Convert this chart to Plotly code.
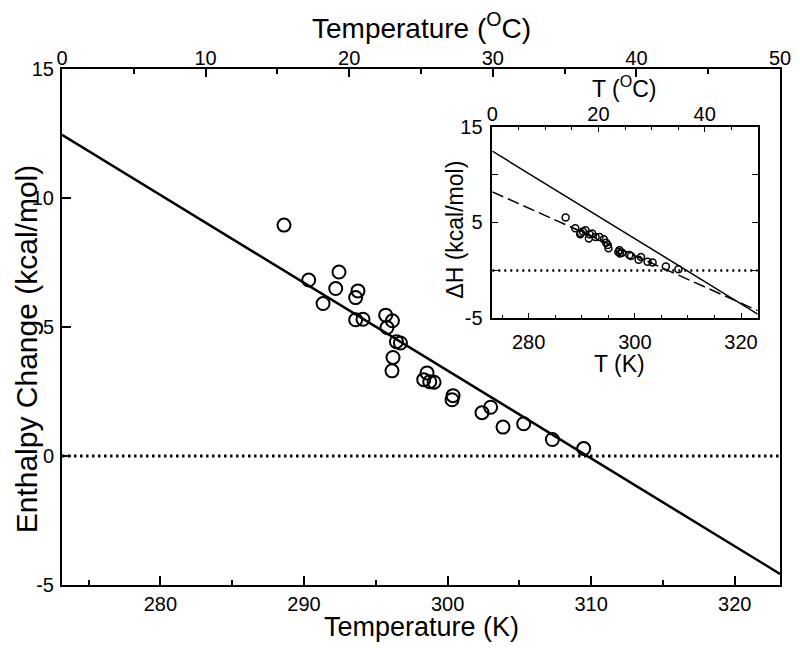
import plotly.graph_objects as go

# ---------------- data ----------------
# Main panel: measured enthalpy change vs temperature (K)
main_T = [288.61, 290.33, 292.44, 292.21, 291.33, 293.76, 293.60, 293.60, 294.11,
          295.69, 296.16, 295.78, 296.44, 296.72, 296.20, 296.13, 298.57, 298.34,
          298.76, 299.06, 300.38, 300.31, 302.40, 303.00, 303.86, 305.30, 307.30, 309.48]
main_dH = [8.95, 6.82, 7.13, 6.49, 5.91, 6.40, 6.14, 5.28, 5.30,
           5.46, 5.24, 4.98, 4.43, 4.38, 3.82, 3.30, 3.22, 2.96,
           2.88, 2.86, 2.34, 2.18, 1.68, 1.89, 1.12, 1.25, 0.64, 0.29]

# linear fit (solid) shown in both panels
fit_T = [273.15, 323.15]
fit_dH = [12.45, -4.57]

# zero reference line
zero_T = [273.15, 323.15]
zero_dH = [0, 0]

# Inset: second data set and its fit (dashed)
inset_T = [286.96, 288.78, 289.71, 290.21, 290.71, 289.84, 291.46, 291.96, 291.34,
           292.59, 293.34, 294.15, 294.59, 294.90, 295.03, 296.90, 297.20, 297.10,
           297.60, 298.96, 299.28, 301.15, 300.71, 302.40, 303.34, 305.84, 308.21]
inset_dH = [5.53, 4.40, 3.77, 4.05, 4.19, 3.91, 3.77, 3.84, 3.32,
            3.49, 3.49, 3.25, 2.89, 2.65, 2.30, 1.91, 1.77, 2.09,
            1.84, 1.60, 1.49, 1.39, 1.11, 0.89, 0.82, 0.40, 0.12]
dash_T = [273.15, 323.15]
dash_dH = [8.2, -4.2]

# axis ticks
main_x_ticks = [280, 290, 300, 310, 320]
main_c_ticks = [0, 10, 20, 30, 40, 50]
main_y_ticks = [-5, 0, 5, 10, 15]
main_y_labels = ["-5", "0", "5", "10", "15"]
inset_x_ticks = [280, 300, 320]
inset_c_ticks = [0, 20, 40]
inset_y_ticks = [-5, 5, 15]
inset_y_labels = ["-5", "5", "15"]

FONT = "Liberation Sans, Arial, sans-serif"

fig = go.Figure()

# main panel
fig.add_trace(go.Scatter(x=zero_T, y=zero_dH, mode="lines",
                         line=dict(color="black", width=3, dash="2.5px,3.5px"),
                         xaxis="x", yaxis="y", showlegend=False, hoverinfo="skip"))
fig.add_trace(go.Scatter(x=fit_T, y=fit_dH, mode="lines",
                         line=dict(color="black", width=2.5),
                         xaxis="x", yaxis="y", showlegend=False))
fig.add_trace(go.Scatter(x=main_T, y=main_dH, mode="markers",
                         marker=dict(symbol="circle-open", size=13, color="black",
                                     line=dict(width=2, color="black")),
                         xaxis="x", yaxis="y", showlegend=False))
# top Celsius axis carrier
fig.add_trace(go.Scatter(x=[], y=[], xaxis="x2", yaxis="y", showlegend=False,
                         hoverinfo="skip"))

# inset
fig.add_trace(go.Scatter(x=zero_T, y=zero_dH, mode="lines",
                         line=dict(color="black", width=2.5, dash="2px,4px"),
                         xaxis="x3", yaxis="y3", showlegend=False, hoverinfo="skip"))
fig.add_trace(go.Scatter(x=fit_T, y=fit_dH, mode="lines",
                         line=dict(color="black", width=1.5),
                         xaxis="x3", yaxis="y3", showlegend=False))
fig.add_trace(go.Scatter(x=dash_T, y=dash_dH, mode="lines",
                         line=dict(color="black", width=1.5, dash="12px,5px"),
                         xaxis="x3", yaxis="y3", showlegend=False))
fig.add_trace(go.Scatter(x=inset_T, y=inset_dH, mode="markers",
                         marker=dict(symbol="circle-open", size=7, color="black",
                                     line=dict(width=1.5, color="black")),
                         xaxis="x3", yaxis="y3", showlegend=False))
fig.add_trace(go.Scatter(x=[], y=[], xaxis="x4", yaxis="y3", showlegend=False,
                         hoverinfo="skip"))

common = dict(showgrid=False, zeroline=False, showline=True, linecolor="black",
              automargin=False, ticks="inside", tickcolor="black",
              tickfont=dict(family=FONT, size=20, color="black"))

# page body has an 8px margin: size the figure so the plot lands where the reference has it
fig.update_layout(
    width=784, height=636,
    margin=dict(l=54, r=12, t=61, b=59, autoexpand=False),
    paper_bgcolor="white", plot_bgcolor="white",
    font=dict(family=FONT, color="black"),
    xaxis=dict(**common, domain=[0, 1], anchor="y", range=[273.15, 323.15],
               tickmode="array", tickvals=main_x_ticks, linewidth=2,
               ticklen=9, tickwidth=1.5,
               minor=dict(ticks="inside", ticklen=5, tickwidth=1.5, dtick=5, tick0=275,
                          tickcolor="black"),
               ticklabelstandoff=0),
    xaxis2=dict(**common, overlaying="x", side="top", anchor="y", range=[0, 50],
                tickmode="array", tickvals=main_c_ticks, linewidth=2,
                ticklen=8, tickwidth=1.5,
                minor=dict(ticks="inside", ticklen=5, tickwidth=1.5, dtick=5, tick0=0,
                           tickcolor="black"),
                ticklabelstandoff=-6),
    yaxis=dict(**common, domain=[0, 1], anchor="x", range=[-5, 15],
               tickmode="array", tickvals=main_y_ticks, ticktext=main_y_labels,
               linewidth=2, mirror=True,
               ticklen=9, tickwidth=1.5, ticklabelstandoff=2),
    xaxis3=dict(**common, domain=[0.5993, 0.969], anchor="y3", range=[273.15, 323.15],
                tickmode="array", tickvals=inset_x_ticks, linewidth=1.5,
                ticklen=6, tickwidth=1.2,
                minor=dict(ticks="inside", ticklen=4, tickwidth=1.2, dtick=5, tick0=275,
                           tickcolor="black"),
                ticklabelstandoff=5),
    xaxis4=dict(**common, overlaying="x3", side="top", anchor="y3", range=[0, 50],
                tickmode="array", tickvals=inset_c_ticks, linewidth=1.5,
                ticklen=6, tickwidth=1.2,
                minor=dict(ticks="inside", ticklen=4, tickwidth=1.2, dtick=5, tick0=0,
                           tickcolor="black"),
                ticklabelstandoff=-4),
    yaxis3=dict(**common, domain=[0.5169, 0.8882], anchor="x3", range=[-5, 15],
                tickmode="array", tickvals=inset_y_ticks, ticktext=inset_y_labels,
                linewidth=1.5, mirror="ticks",
                ticklen=6, tickwidth=1.2,
                minor=dict(ticks="inside", ticklen=6, tickwidth=1.2, dtick=5, tick0=0,
                           tickcolor="black"),
                ticklabelstandoff=4),
)

annots = [
    dict(text="Temperature (K)", x=0.5, y=-0.082, size=27),
    dict(text="Temperature (<sup>O</sup>C)", x=0.5, y=1.084, size=28),
    dict(text="Enthalpy Change (kcal/mol)", x=-0.050, y=0.457, size=30, angle=-90),
    dict(text="T (K)", x=0.777, y=0.428, size=23),
    dict(text="T (<sup>O</sup>C)", x=0.784, y=0.966, size=23),
    dict(text="ΔH (kcal/mol)", x=0.547, y=0.688, size=23, angle=-90),
]
for a in annots:
    fig.add_annotation(text=a["text"], x=a["x"], y=a["y"], xref="paper", yref="paper",
                       xanchor="center", yanchor="middle", showarrow=False,
                       textangle=a.get("angle", 0),
                       font=dict(family=FONT, size=a["size"], color="black"))

fig.write_html("out.html")
